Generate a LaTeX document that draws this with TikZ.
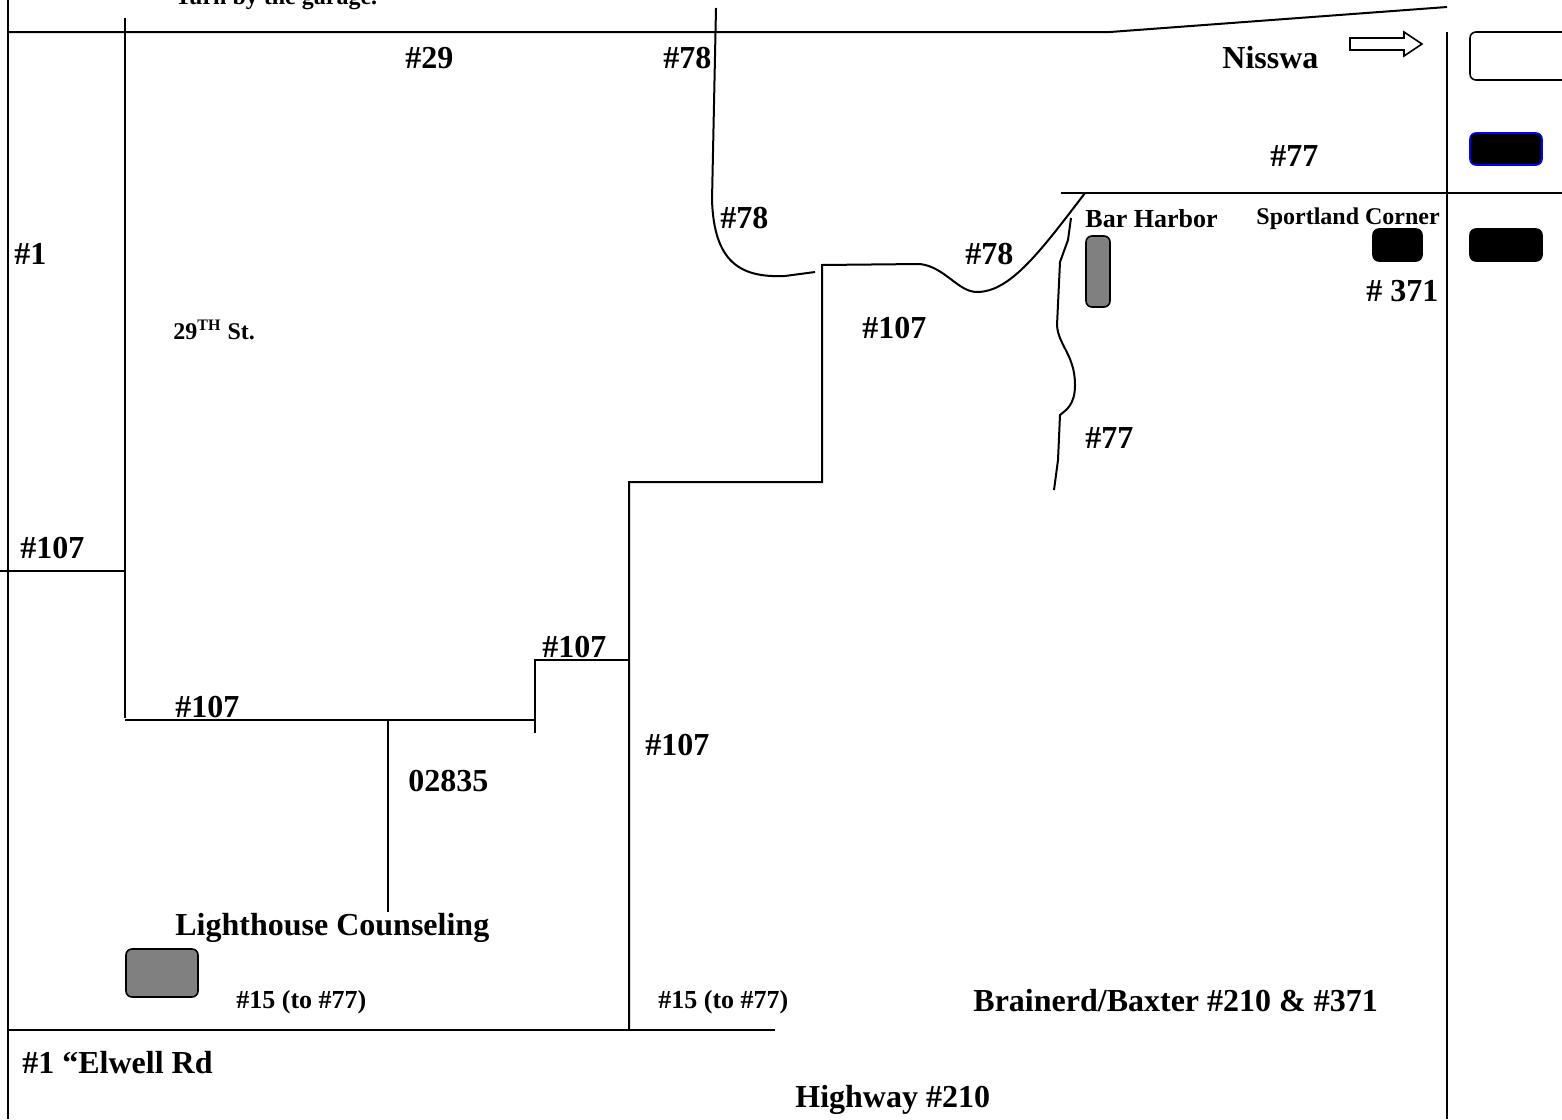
\documentclass[tikz,border=0pt]{standalone}
\usepackage{fontspec}
\setmainfont{Liberation Serif}
\begin{document}
\begin{tikzpicture}[x=0.5pt,y=-0.5pt,
  road/.style={line width=1pt,black},
  big/.style={font=\fontsize{16}{18}\selectfont\bfseries,anchor=west,inner sep=0pt},
  small/.style={font=\fontsize{12}{14}\selectfont\bfseries,anchor=west,inner sep=0pt},
  smallb/.style={font=\fontsize{13}{15}\selectfont\bfseries,anchor=west,inner sep=0pt},
  bldg/.style={draw=black,line width=0.8pt,rounded corners=3pt}]
\clip (0,0) rectangle (1562,1119);
\fill[white] (0,0) rectangle (1562,1119);
% roads
\draw[road] (8,0) -- (8,1119);
\draw[road] (8,32) -- (1110,32) -- (1447,7);
\draw[road] (125,18) -- (125,718);
\draw[road] (0,571) -- (125,571);
\draw[road] (125,720) -- (535,720);
\draw[road] (388,720) -- (388,912);
\draw[road] (535,733) -- (535,660) -- (629,660);
\draw[road] (629,1030) -- (629,482) -- (822,482) -- (822,265) -- (920,264)
  .. controls (945,267) and (958,292) .. (977,292)
  .. controls (1010,292) and (1040,252) .. (1085,193);
\draw[road] (716,8) -- (712,200) .. controls (714,262) and (740,278) .. (785,276) -- (815,272);
\draw[road] (1061,193) -- (1562,193);
\draw[road] (1447,32) -- (1447,1119);
\draw[road] (8,1030) -- (775,1030);
\draw[road] (1071,218) -- (1068,240) -- (1060,262) -- (1057,325)
  .. controls (1058,345) and (1075,355) .. (1075,385)
  .. controls (1075,405) and (1066,410) .. (1060,415) -- (1058,460) -- (1054,490);
% arrow
\draw[line width=0.8pt] (1350,38) -- (1404,38) -- (1404,32) -- (1422,44) -- (1404,56) -- (1404,50) -- (1350,50) -- cycle;
% buildings
\draw[bldg,fill=white] (1470,32) rectangle (1575,80);
\draw[bldg,draw=blue,fill=black] (1470,133) rectangle (1542,165);
\draw[bldg,fill=black] (1470,229) rectangle (1542,261);
\draw[bldg,fill=black] (1373,229) rectangle (1422,261);
\draw[bldg,fill=gray] (1086,236) rectangle (1110,307);
\draw[bldg,fill=gray] (126,949) rectangle (198,997);
% labels
\node[small] (turn) at (175,-1) {Turn by the garage.};
\node[big] (l29) at (405,58) {\#29};
\node[big] (l78a) at (663,58) {\#78};
\node[big] (nis) at (1222,58) {Nisswa};
\node[big] (l77a) at (1270,156) {\#77};
\node[big] (l78b) at (720,218) {\#78};
\node[big] (l1) at (14,254) {\#1};
\node[smallb] (bar) at (1085,219) {Bar Harbor};
\node[small] (sport) at (1256,219) {Sportland Corner};
\node[big] (l78c) at (965,254) {\#78};
\node[big] (l371) at (1366,291) {\# 371};
\node[small] (st29) at (173,330) {29\textsuperscript{TH} St.};
\node[big] (l107a) at (862,328) {\#107};
\node[big] (l77b) at (1085,438) {\#77};
\node[big] (l107b) at (20,548) {\#107};
\node[big] (l107c) at (542,647) {\#107};
\node[big] (l107d) at (175,707) {\#107};
\node[big] (l107e) at (645,745) {\#107};
\node[big] (zip) at (408,781) {02835};
\node[big] (light) at (175,928) {Lighthouse Counseling};
\node[smallb] (l15a) at (236,1002) {\#15 (to \#77)};
\node[smallb] (l15b) at (658,1002) {\#15 (to \#77)};
\node[big] (brain) at (973,1001) {Brainerd/Baxter \#210 \& \#371};
\node[big] (elwell) at (22,1063) {\#1 “Elwell Rd};
\node[big] (hwy) at (795,1100) {Highway \#210};
\end{tikzpicture}
\end{document}
